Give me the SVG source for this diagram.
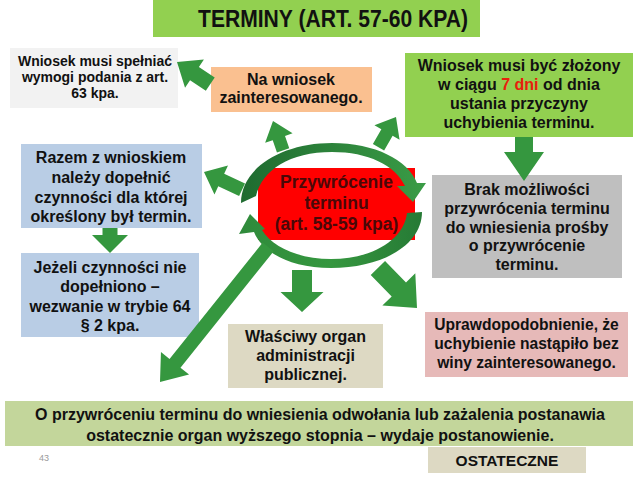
<svg xmlns="http://www.w3.org/2000/svg" width="640" height="480" viewBox="0 0 640 480">
<style>
text{font-family:"Liberation Sans",Arial,sans-serif;font-weight:bold;fill:#111;text-anchor:middle}
.t16{font-size:16px}
.arr{fill:#35973f}
</style>
<defs>
<linearGradient id="gUp" x1="0" y1="0" x2="1" y2="0">
<stop offset="0" stop-color="#1f6b30"/><stop offset="1" stop-color="#3a9c46"/>
</linearGradient>
<linearGradient id="gLo" x1="1" y1="0" x2="0" y2="0">
<stop offset="0" stop-color="#267a35"/><stop offset="0.5" stop-color="#35973f"/><stop offset="1" stop-color="#2f8a3b"/>
</linearGradient>
</defs>
<rect width="640" height="480" fill="#fff"/>

<g id="title">
<rect x="153" y="0" width="327" height="37" fill="#92D050"/>
<text x="333" y="27" style="font-size:23px" textLength="270" lengthAdjust="spacingAndGlyphs">TERMINY (ART. 57-60 KPA)</text>
</g>

<g id="n-wymogi">
<rect x="10" y="48" width="168" height="60" fill="#F2F2F2"/>
<text x="95" y="66" style="font-size:14px">Wniosek musi spełniać</text>
<text x="95" y="82" style="font-size:14px">wymogi podania z art.</text>
<text x="95" y="98" style="font-size:14px">63 kpa.</text>
</g>

<g id="n-nawniosek">
<rect x="211" y="67" width="161" height="45" fill="#FAC090"/>
<text class="t16" x="291" y="85">Na wniosek</text>
<text class="t16" x="291" y="103">zainteresowanego.</text>
</g>

<g id="n-7dni">
<rect x="405" y="53" width="228" height="84" fill="#92D050"/>
<text class="t16" x="519" y="71">Wniosek musi być złożony</text>
<text class="t16" x="519" y="90">w ciągu <tspan fill="#E8200C">7 dni</tspan> od dnia</text>
<text class="t16" x="519" y="109">ustania przyczyny</text>
<text class="t16" x="519" y="128">uchybienia terminu.</text>
</g>

<g id="n-razem">
<rect x="21" y="144" width="181" height="84" fill="#B9CDE5"/>
<text class="t16" x="111" y="163">Razem z wnioskiem</text>
<text class="t16" x="111" y="183">należy dopełnić</text>
<text class="t16" x="111" y="203">czynności dla której</text>
<text class="t16" x="111" y="222">określony był termin.</text>
</g>

<g id="n-jezeli">
<rect x="21" y="253" width="178" height="84" fill="#B9CDE5"/>
<text class="t16" x="110" y="273">Jeżeli czynności nie</text>
<text class="t16" x="110" y="292">dopełniono –</text>
<text class="t16" x="110" y="312">wezwanie w trybie 64</text>
<text class="t16" x="110" y="331">§ 2 kpa.</text>
</g>

<g id="n-przywrocenie">
<rect x="258" y="168" width="157" height="72" fill="#FF0000"/>
<text x="336.5" y="188" style="font-size:17.5px;fill:#4a0808">Przywrócenie</text>
<text x="336.5" y="209" style="font-size:17.5px;fill:#4a0808">terminu</text>
<text x="336.5" y="230" style="font-size:17.5px;fill:#4a0808">(art. 58-59 kpa)</text>
</g>

<g id="n-brak">
<rect x="432" y="175" width="190" height="103" fill="#BFBFBF"/>
<text class="t16" x="527" y="195">Brak możliwości</text>
<text class="t16" x="527" y="214">przywrócenia terminu</text>
<text class="t16" x="527" y="233">do wniesienia prośby</text>
<text class="t16" x="527" y="251">o przywrócenie</text>
<text class="t16" x="527" y="270">terminu.</text>
</g>

<g id="n-organ">
<rect x="228" y="324" width="155" height="64" fill="#DDD9C3"/>
<text class="t16" x="305.5" y="342">Właściwy organ</text>
<text class="t16" x="305.5" y="361">administracji</text>
<text class="t16" x="305.5" y="380">publicznej.</text>
</g>

<g id="n-uprawd">
<rect x="425" y="312" width="203" height="65" fill="#E6B9B8"/>
<text x="526.5" y="330" style="font-size:15.6px">Uprawdopodobnienie, że</text>
<text x="526.5" y="349" style="font-size:15.6px">uchybienie nastąpiło bez</text>
<text x="526.5" y="368" style="font-size:15.6px">winy zainteresowanego.</text>
</g>

<g id="n-odwolanie">
<rect x="5" y="401" width="628" height="45" fill="#C3D69B"/>
<text class="t16" x="320" y="420">O przywróceniu terminu do wniesienia odwołania lub zażalenia postanawia</text>
<text class="t16" x="320" y="441">ostatecznie organ wyższego stopnia – wydaje postanowienie.</text>
</g>

<g id="n-ostateczne">
<rect x="428" y="447" width="158" height="26" fill="#DDD9C3"/>
<text x="507" y="466" style="font-size:15.5px">OSTATECZNE</text>
</g>

<g id="page-number">
<text x="44" y="461" style="font-size:9px;font-weight:normal;fill:#9a9a9a">43</text>
</g>

<g id="connectors">
<path fill="url(#gUp)" d="M241,203 C241,168 282,143 332,143 C375,143 408,160 417,183 L426,183 L413,202 L397,186 L405,186 C395,165 368,152 332,152 C290,152 262,170 256,196 Z"/>
<path fill="url(#gLo)" d="M422,212 C422,245 382,268 331,268 C290,268 262,252 254,232 L239,234 L250,214 L265,229 L262,230 C273,248 300,259 331,259 C372,259 404,240 407,213 Z"/>
<polygon class="arr" points="-40,-8 -21,-8 -21,-17 0,0 -21,17 -21,8 -40,8" transform="translate(177,62) rotate(-146.3)"/>
<polygon class="arr" points="-31,-6.5 -18,-6.5 -18,-14.5 0,0 -18,14.5 -18,6.5 -31,6.5" transform="translate(273,121) rotate(-109)"/>
<polygon class="arr" points="-35,-6.5 -18,-6.5 -18,-14.5 0,0 -18,14.5 -18,6.5 -35,6.5" transform="translate(396,117) rotate(-60)"/>
<polygon class="arr" points="-42,-7 -19,-7 -19,-16 0,0 -19,16 -19,7 -42,7" transform="translate(204,172) rotate(-155)"/>
<polygon class="arr" points="-25,-7.5 -18,-7.5 -18,-18 0,0 -18,18 -18,7.5 -25,7.5" transform="translate(110,253) rotate(90)"/>
<polygon class="arr" points="-44,-9 -29,-9 -29,-20 0,0 -29,20 -29,9 -44,9" transform="translate(524,181) rotate(90)"/>
<polygon class="arr" points="-42,-10 -20,-10 -20,-21.5 0,0 -20,21.5 -20,10 -42,10" transform="translate(302,312) rotate(90)"/>
<polygon class="arr" points="-56,-10 -26,-10 -26,-23 0,0 -26,23 -26,10 -56,10" transform="translate(417,308) rotate(45.7)"/>
<polygon class="arr" points="-173,-7 -24,-7 -24,-18 0,0 -24,18 -24,7 -173,7" transform="translate(160,382) rotate(128.7)"/>
</g>
</svg>
